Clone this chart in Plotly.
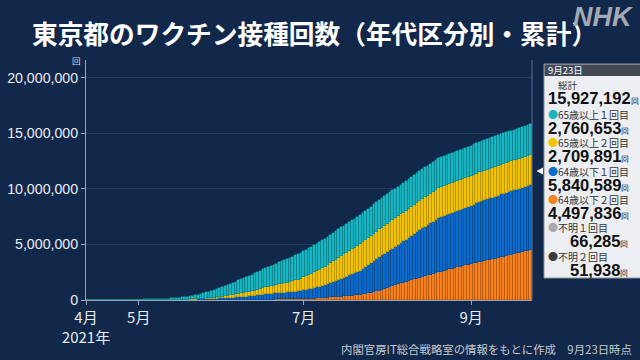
import pandas as pd
import plotly.graph_objects as go

# cumulative doses, unit: 10,000 (万回), daily from 2021-04-12 to 2021-09-23
cyan_65_1st = [0.3,0.3,0.4,0.4,0.5,0.5,0.6,0.7,0.8,0.9, 1.0,
    1.3,1.6,1.9,2.2,2.5,2.8,3.2,3.6,4.0,
    4.5,5.0,5.6,6.2,6.9,7.6,8.4,9.2,10.1,11.0,12.0,
    13.5,15,17,19,21.5,24,27,30,33,36.5,40.5,45,
    50,55,60,65.5,71,76.5,82,87.5,93,98.5,104,110,
    115.5,121,126.5,132,137.5,143,148.5,154,159.5,165,170,175,
    180,184.5,189,193.5,198,202.5,207,211.5,216,220.5,225,230,
    233,236,239,241.5,244,246,248,250,
    251.5,253,254,255,256,257,258,
    258.7,259.3,259.9,260.4,260.9,261.4,262.0,262.5,
    262.9,263.2,263.5,263.8,264.1,264.4,264.7,
    265.0,265.3,265.6,265.9,266.2,266.5,266.8,267.1,
    267.4,267.7,268.0,268.3,268.6,268.9,269.2,
    269.4,269.6,269.8,270.0,270.2,270.4,270.6,
    270.8,271.0,271.2,271.4,271.6,271.8,272.0,272.2,
    272.4,272.6,272.8,273.0,273.2,273.4,273.6,
    273.8,274.0,274.2,274.4,274.5,274.6,274.7,274.8,
    274.9,275.0,275.1,275.2,275.3,275.4,275.5,
    275.7,275.8,275.9,276.0653]

yellow_65_2nd = [0]*21 + [0.1,0.1,0.2,0.2,0.3,0.3,0.4,0.5,0.6,0.7,
    0.8,0.9,1.0,1.1,1.3,1.5,1.7,1.9,2.1,2.4,2.7,3.0,
    4,5,6.5,8,9.5,11,13,15,17,19.5,22,25,
    27.5,30,32.5,35,37.5,40,43,46,49,52,56,60,
    63.5,67,70.5,74,78,82,85.5,89,93,97,101,105,
    110.5,116,121.5,127,133,139,144.5,150,
    157,164,171,178,185,192.5,200,
    205,210,214.5,219,223,227,231,235,
    237.5,240,242,244,246,248,250,
    251.5,253,254.3,255.5,256.6,257.7,258.8,260,
    260.5,261,261.4,261.8,262.2,262.6,263,
    263.3,263.6,263.9,264.2,264.5,264.8,265,
    265.3,265.5,265.8,266,266.3,266.5,266.8,267,
    267.1,267.3,267.4,267.6,267.7,267.9,268,
    268.1,268.3,268.4,268.5,268.6,268.8,268.9,269,
    269.1,269.3,269.4,269.6,269.7,269.9,270,
    270.2,270.5,270.7,270.9891]

blue_64_1st = [0]*30 + [0.2,0.4,0.6,0.9,1.2,1.6,2,2.5,3,3.6,4.3,5.5,7,
    8,9,10,11,12,13,14,15,16,17,18.5,20,
    22,24,26,28,30,32.5,35,37.5,40,43,46.5,50,
    51.5,53,54.5,56,57.5,59,60.5,62,64,66,68,70,
    74,78,82.5,87,91.5,96,100.5,105,
    111,117,123.5,130,136.5,143,150,
    158,167,176,185,194,202,211,220,
    231,242,253,265,277,289,300,
    308,316,324,331,338,345,352,360,
    370,380,390,400,410,420,430,
    438,446,454,462,470,480,490,
    493,496,499,502,504,506,508,510,
    514,518,522,526,530,535,540,
    543,546,549,552,555,558,561,565,
    567,568.5,570,571.5,573,574,575,
    577,579,581.5,584.0589]

orange_64_2nd = [0]*50 + [0.1,0.2,0.3,0.4,0.5,0.6,0.7,0.8,1.0,1.2,1.4,1.6,1.8,2.0,2.3,2.6,3.0,
    3.4,3.8,4.2,4.6,5,5.4,5.8,6.2,6.6,7,7.5,8,
    8.8,9.6,10.4,11.2,12,12.8,14,15,
    17,19,21,23.5,26,28,30,
    31.5,33,35,37,39,41,43,45,
    50,55,61,67,73,79,85,
    93,101,109,117,125,133,141,150,
    157,164,171,178,185,192,200,
    207,214,221,228,235,242,250,
    256,262,269,275,281,287,294,300,
    306,311,317,323,329,334,340,
    345,351,356,362,367,373,379,385,
    391,397,403,408,414,419,425,
    431,437,443,449.7836]

series_names = ["64歳以下２回目", "64歳以下１回目", "65歳以上２回目", "65歳以上１回目"]
series_colors = ["#f5821f", "#0a6ccc", "#f3c300", "#17b5c2"]
series_edges = ["#b85a10", "#07488a", "#b08c00", "#0e7f88"]

x_tick_vals = ["2021-04-11 12:00", "2021-05-01", "2021-07-01", "2021-09-01"]
x_tick_text = ["4月<br>2021年", "5月", "7月", "9月"]
y_tick_vals = [0, 5000000, 10000000, 15000000, 20000000]

panel_date = "9月23日"
panel_total = "15,927,192"
panel_items = [("65歳以上１回目", "2,760,653", "#17b5c2"),
               ("65歳以上２回目", "2,709,891", "#f3c300"),
               ("64歳以下１回目", "5,840,589", "#0a6ccc"),
               ("64歳以下２回目", "4,497,836", "#f5821f"),
               ("不明１回目", "66,285", "#aaaaaa"),
               ("不明２回目", "51,938", "#3a3a3a")]

n = len(cyan_65_1st)
assert n == len(yellow_65_2nd) == len(blue_64_1st) == len(orange_64_2nd) == 165
dates = pd.date_range("2021-04-12", periods=n)

BG = "#12284a"
JP = "Noto Sans CJK JP"
NUM = "Liberation Sans"

L, R, T, B = 86, 108, 60, 60
W, H = 640, 360
PW, PH = W - L - R, H - T - B


def px(x):
    return (x - L) / PW


def py(y):
    return (H - B - y) / PH


fig = go.Figure()
for vals, name, color, edge in zip([orange_64_2nd, blue_64_1st, yellow_65_2nd, cyan_65_1st],
                                   series_names, series_colors, series_edges):
    fig.add_trace(go.Bar(x=dates, y=[v * 10000 for v in vals], name=name,
                         marker=dict(color=color, line=dict(width=0.6, color=edge))))

fig.update_layout(
    width=W, height=H, barmode="stack", bargap=0,
    paper_bgcolor=BG, plot_bgcolor=BG, showlegend=False,
    margin=dict(l=L, r=R, t=T, b=B, autoexpand=False),
    font=dict(family=NUM, color="#e4e8ee"),
    xaxis=dict(type="date", range=["2021-04-11 12:00", "2021-09-23 12:00"],
               tickvals=x_tick_vals, ticktext=x_tick_text, automargin=False,
               tickfont=dict(family=JP, size=15, color="#e8ebf0"),
               showgrid=False, showline=True, linecolor="#97a3b6", linewidth=1,
               ticks="outside", ticklen=4, tickcolor="#97a3b6", zeroline=False),
    yaxis=dict(range=[0, 21600000], tickvals=y_tick_vals, tickformat=",d", automargin=False,
               tickfont=dict(family=NUM, size=14.2, color="#e8ebf0"),
               showgrid=True, gridcolor="#263d63", gridwidth=1,
               showline=True, linecolor="#97a3b6", linewidth=1,
               ticks="outside", ticklen=4, tickcolor="#97a3b6", zeroline=False),
)

shapes = []
shapes.append(dict(type="line", xref="paper", yref="paper", x0=1, x1=1, y0=0, y1=1,
                   line=dict(color="#5f7191", width=1)))
shapes.append(dict(type="path", xref="paper", yref="paper",
                   path=f"M {px(543)} {py(167.5)} L {px(536.5)} {py(171)} L {px(543)} {py(174.5)} Z",
                   fillcolor="#ffffff", line=dict(width=0)))
shapes.append(dict(type="rect", xref="paper", yref="paper", x0=px(544), x1=px(642),
                   y0=py(278), y1=py(64), fillcolor="#eceef1",
                   line=dict(width=1, color="#8d939c"), layer="above"))
shapes.append(dict(type="rect", xref="paper", yref="paper", x0=px(544.5), x1=px(642),
                   y0=py(76), y1=py(64.5), fillcolor="#424955", line=dict(width=0), layer="above"))
fig.update_layout(shapes=shapes)

ann = []


def add(text, x, y, size, color, family=JP, xanchor="left", yanchor="middle"):
    ann.append(dict(text=text, x=px(x), y=py(y), xref="paper", yref="paper",
                    xanchor=xanchor, yanchor=yanchor, showarrow=False,
                    font=dict(size=size, color=color, family=family)))


add("<b>東京都のワクチン接種回数（年代区分別・累計）</b>", 30, 33, 25.7, "#ffffff")
add("<b><i>NHK</i></b>", 636, 17, 27, "#a3a9b3", family=NUM, xanchor="right")
add("回", 76, 60, 8.5, "#d3d8e0", xanchor="center")
add("内閣官房IT総合戦略室の情報をもとに作成　9月23日時点", 634, 349, 11.4, "#c3c8d0", xanchor="right")

add(panel_date, 546, 70, 9.5, "#ffffff")
add("総計", 556, 85, 9.5, "#333333")
add(f"<b>{panel_total}</b><span style='font-size:8px'>回</span>", 546, 98, 16.5, "#111111", family=NUM)
label_y = [114, 142.5, 171, 199, 227.5, 256]
for (label, num, color), ly in zip(panel_items, label_y):
    add(f"<span style='color:{color}'>●</span><span style='color:#333333'>{label}</span>",
        546, ly, 10, "#333333")
    nx = 546 if len(num) > 7 else 568
    add(f"<b>{num}</b><span style='font-size:8px'>回</span>", nx, ly + 13.5, 16.5, "#111111", family=NUM)

fig.update_layout(annotations=ann)
fig.write_html("out.html", config={"displayModeBar": False},
               post_script="document.body.style.margin='0';document.body.style.overflow='hidden';")
